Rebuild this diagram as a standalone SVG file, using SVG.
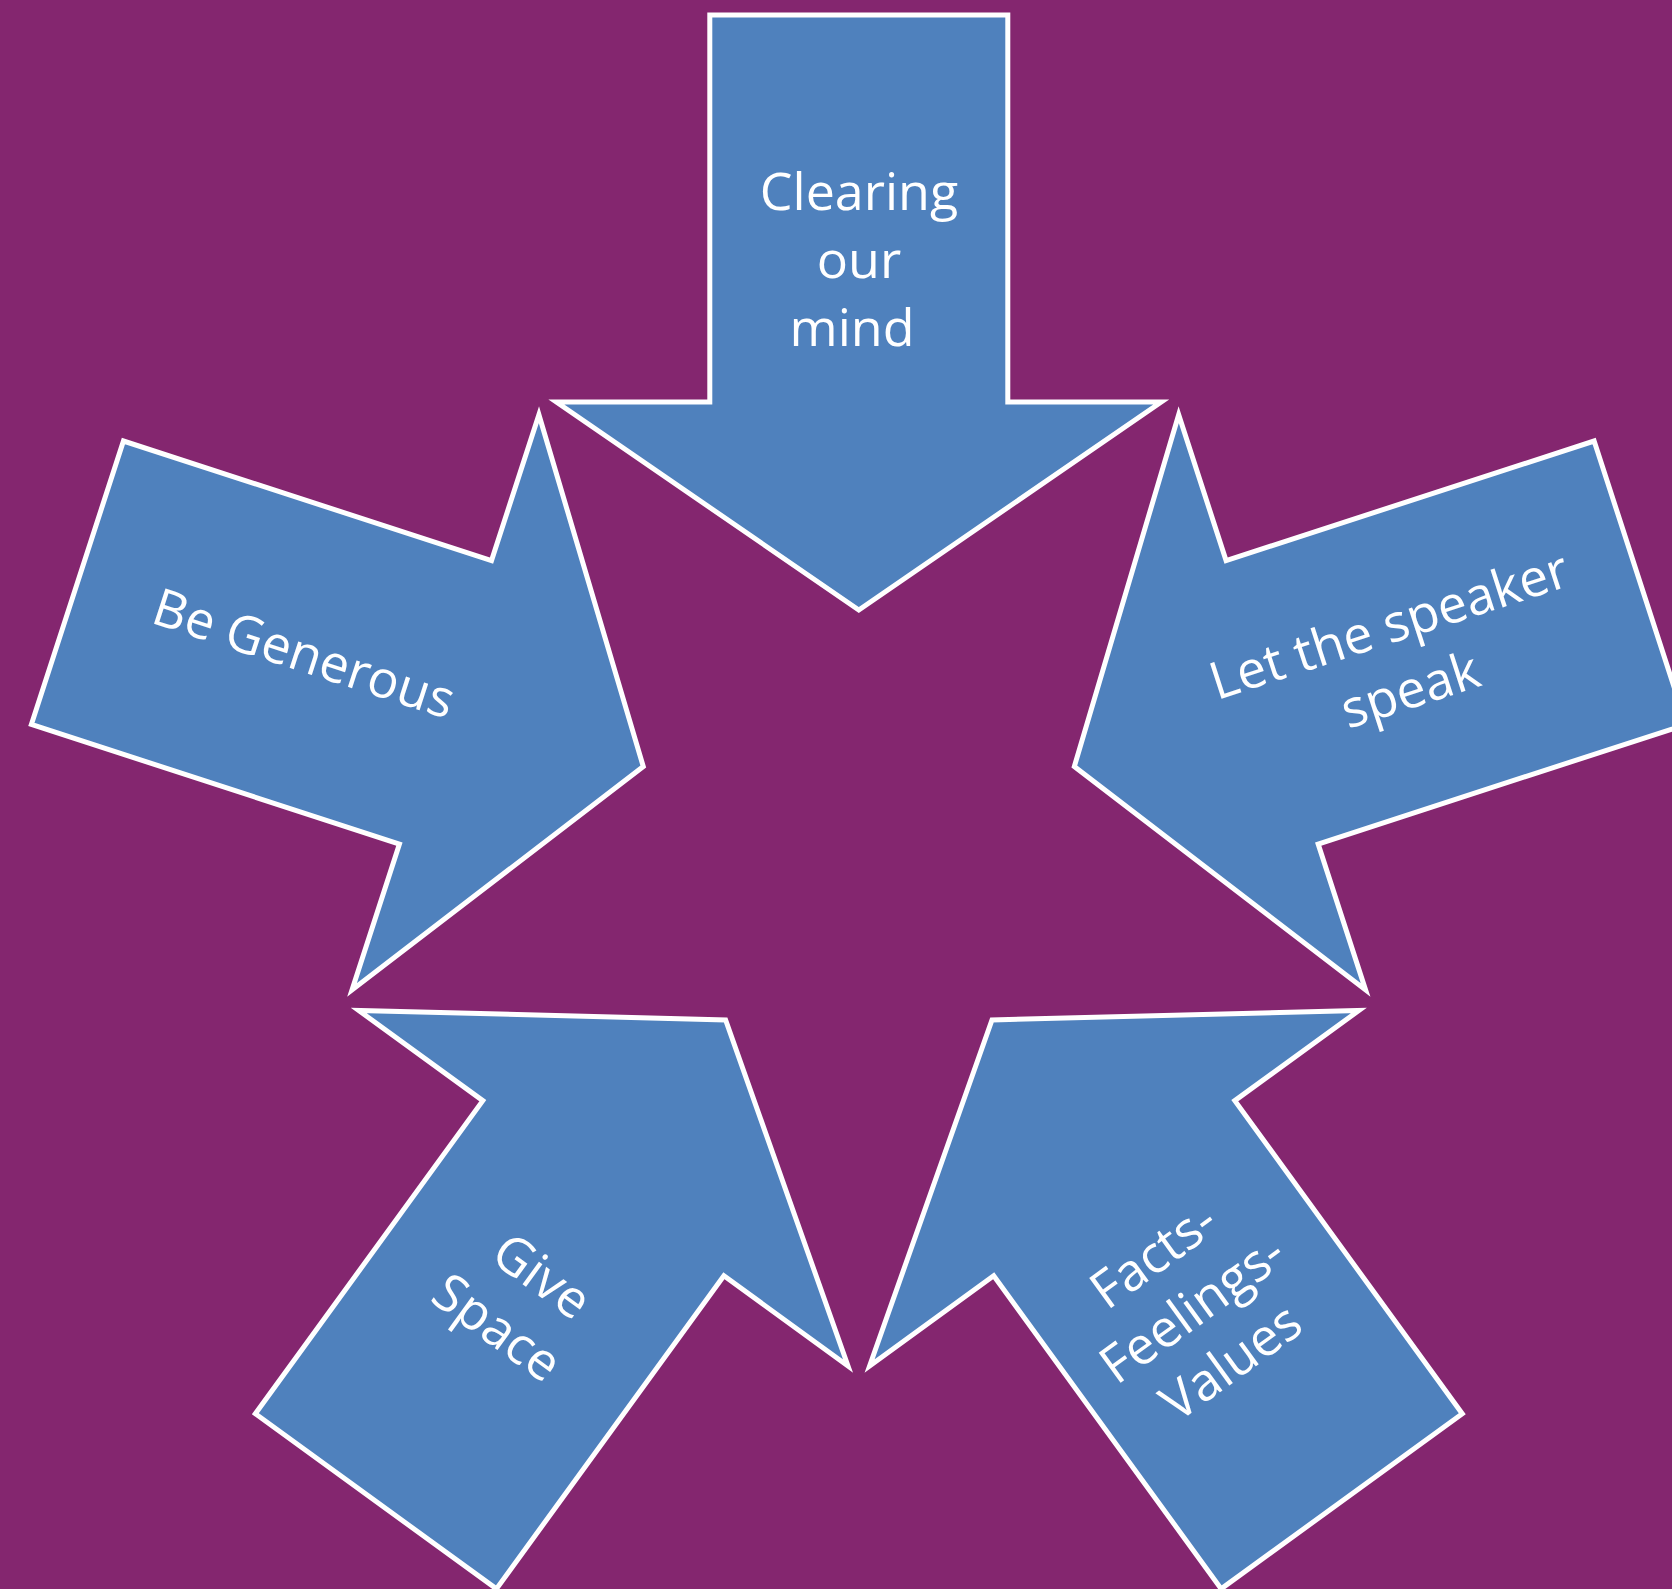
<svg xmlns="http://www.w3.org/2000/svg" xmlns:xlink="http://www.w3.org/1999/xlink" width="1672" height="1589" viewBox="0 0 1672 1589">
  <style>
    .arrow { fill: #4F81BD; stroke: #FFFFFF; stroke-width: 5; stroke-linejoin: miter; stroke-miterlimit: 10; }
    .label { fill: #FFFFFF; font-family: "Open Sans", "Noto Sans", "Liberation Sans", sans-serif; font-size: 52px; text-anchor: middle; }
  </style>
  <defs>
    <polygon id="arrowShape" points="709.8,15 1007.8,15 1007.8,402 1161.2,402 858.8,610 556.4,402 709.8,402"/>
  </defs>
  <rect x="0" y="0" width="1672" height="1589" fill="#84266F"/>

  <g id="node-clearing">
    <use xlink:href="#arrowShape" href="#arrowShape" class="arrow"/>
    <g transform="translate(859,263.5)">
      <text class="label" x="0" y="-54">Clearing</text>
      <text class="label" x="0" y="14">our</text>
      <text class="label" x="-7" y="82">mind</text>
    </g>
  </g>

  <g id="node-generous">
    <use xlink:href="#arrowShape" href="#arrowShape" class="arrow" transform="rotate(-72 858.8 836.6)"/>
    <g transform="translate(303,656.5) rotate(18)">
      <text class="label" x="0" y="15">Be Generous</text>
    </g>
  </g>

  <g id="node-speaker">
    <use xlink:href="#arrowShape" href="#arrowShape" class="arrow" transform="rotate(72 858.8 836.6)"/>
    <g transform="translate(1400.5,660.5) rotate(-18)">
      <text class="label" x="0" y="-19">Let the speaker</text>
      <text class="label" x="0" y="49">speak</text>
    </g>
  </g>

  <g id="node-space">
    <use xlink:href="#arrowShape" href="#arrowShape" class="arrow" transform="rotate(-144 858.8 836.6)"/>
    <g transform="translate(517.8,1304.2) rotate(36)">
      <text class="label" x="3" y="-19">Give</text>
      <text class="label" x="-3" y="49">Space</text>
    </g>
  </g>

  <g id="node-facts">
    <use xlink:href="#arrowShape" href="#arrowShape" class="arrow" transform="rotate(144 858.8 836.6)"/>
    <g transform="translate(1194,1311) rotate(-36)">
      <text class="label" x="0" y="-51">Facts-</text>
      <text class="label" x="0" y="15">Feelings-</text>
      <text class="label" x="0" y="81">Values</text>
    </g>
  </g>

  <g id="connectors"></g>
</svg>
